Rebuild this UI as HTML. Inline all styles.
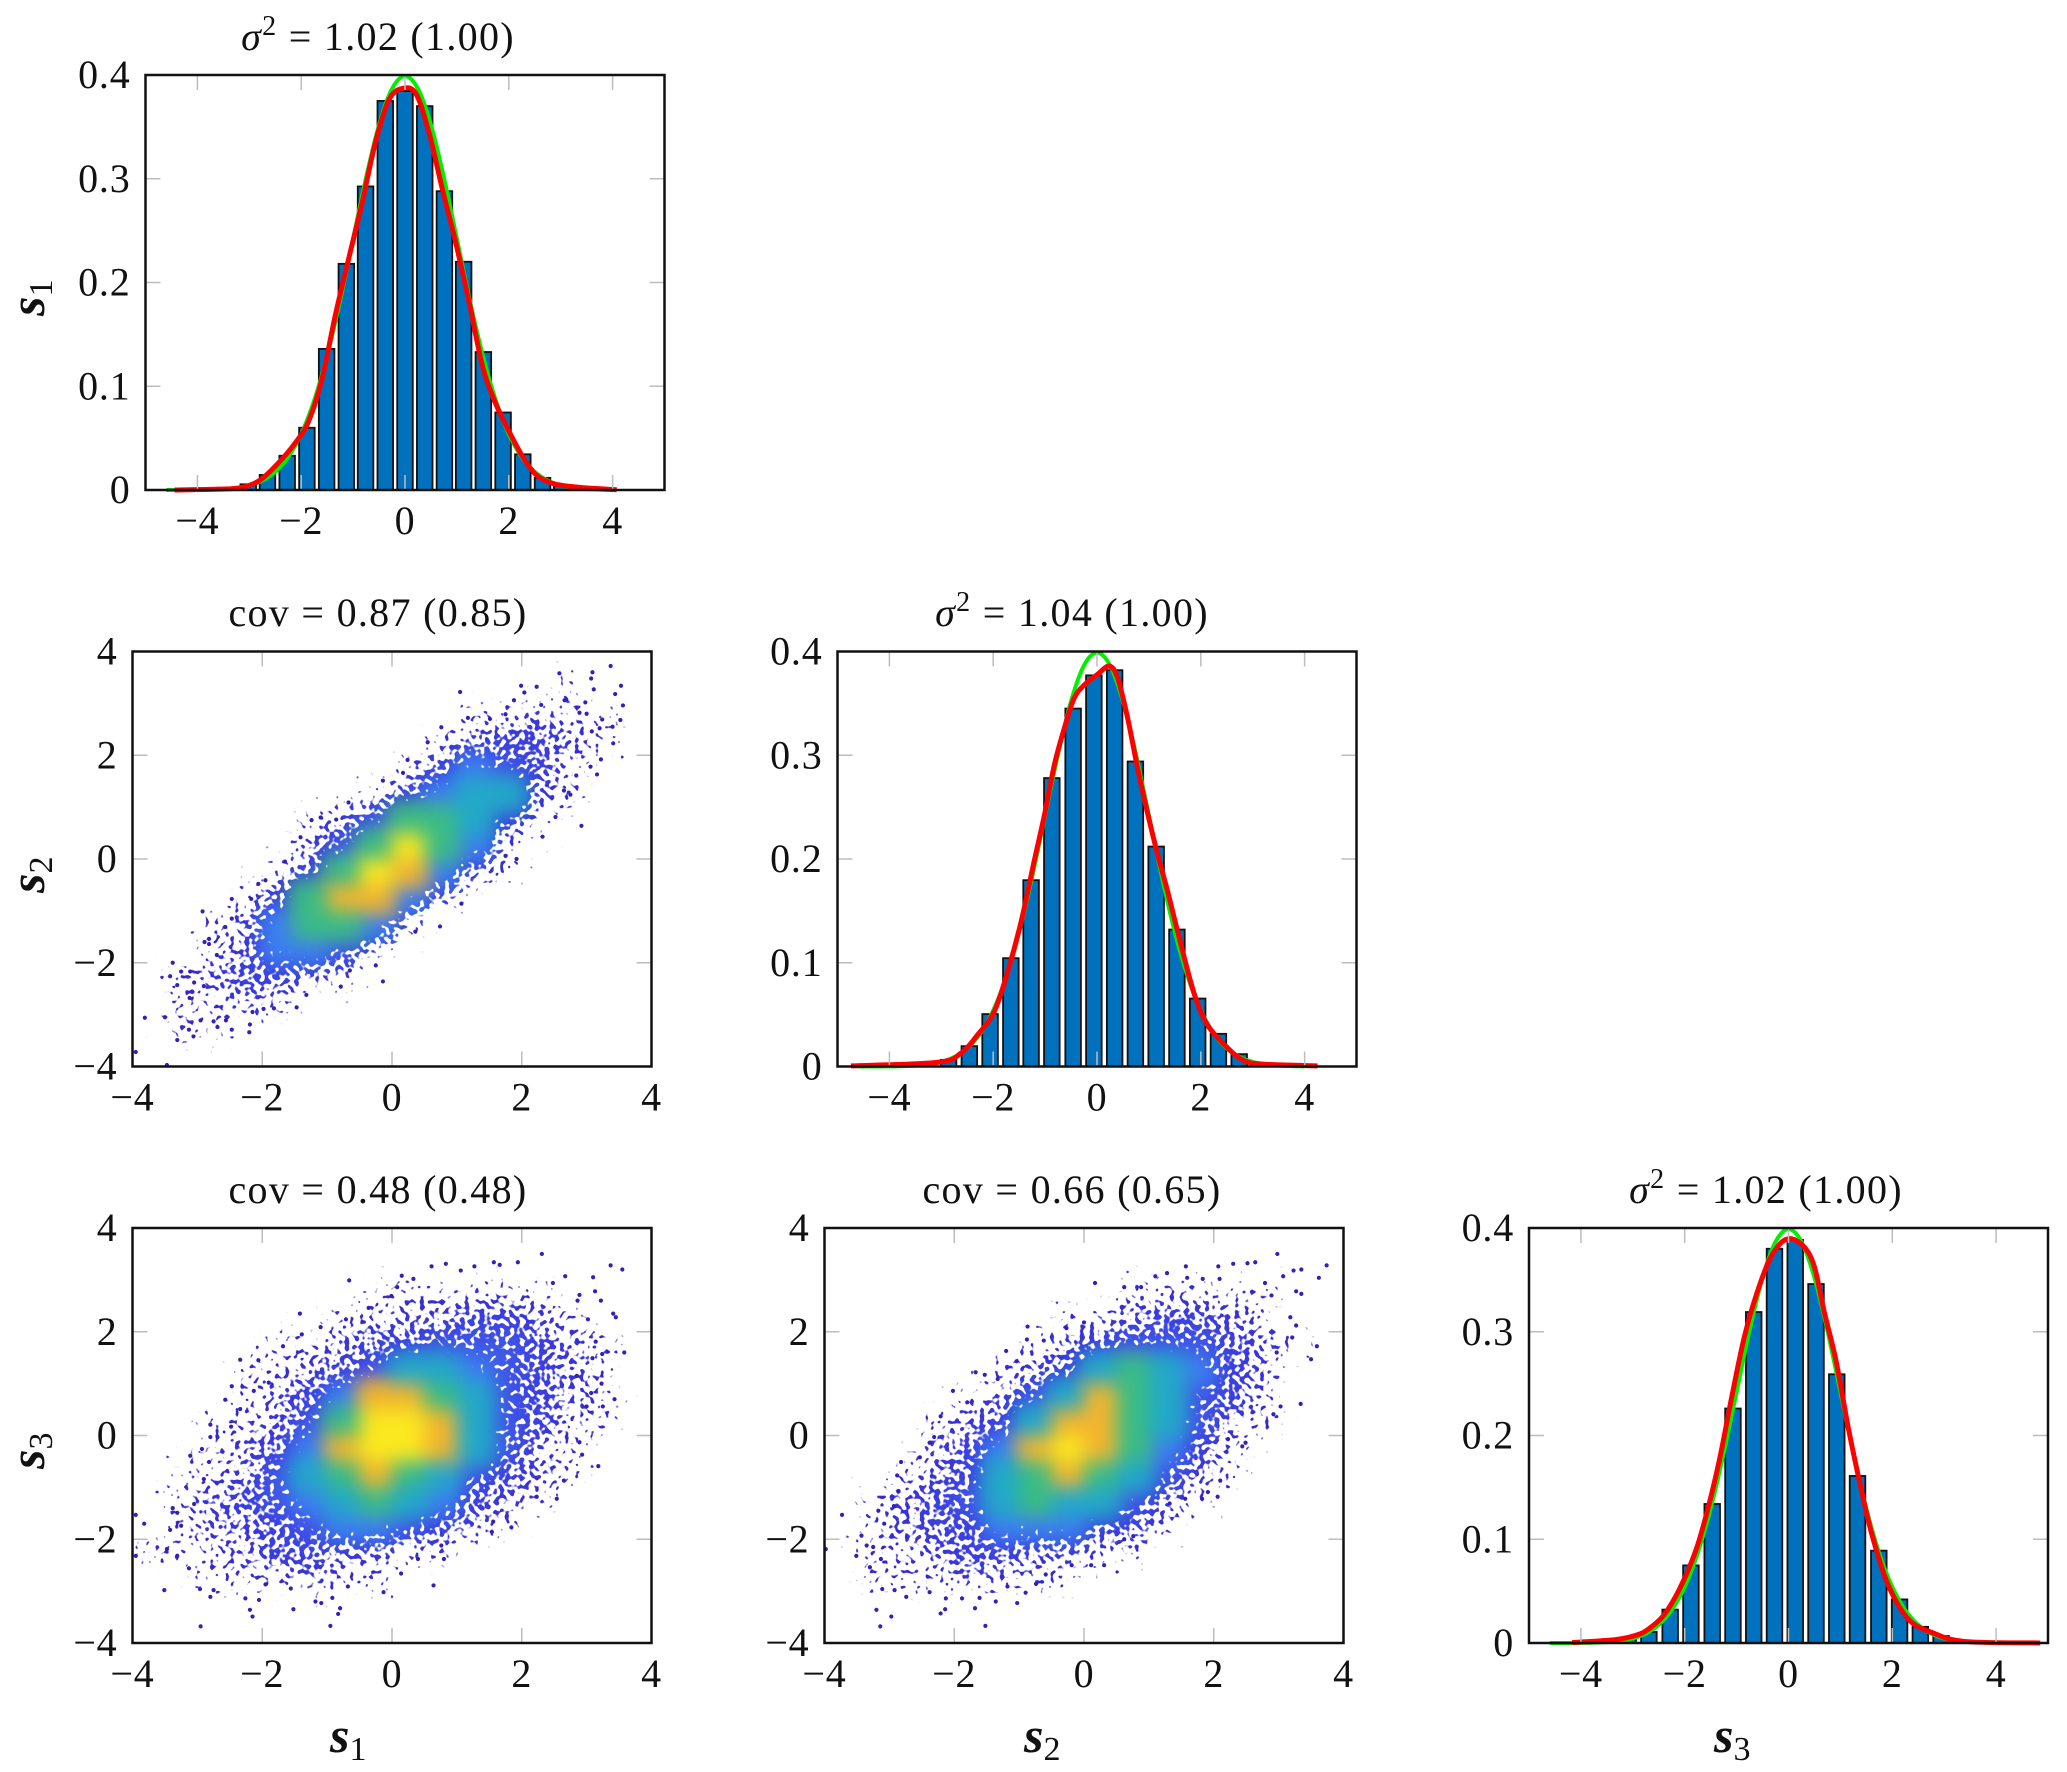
<!DOCTYPE html>
<html lang="en">
<head>
<meta charset="utf-8">
<title>Pairwise marginal and joint distributions of s1, s2, s3</title>
<style>
html,body{margin:0;padding:0;background:#fff}
svg{display:block}
text{font-family:"Liberation Serif",serif;fill:#111}
.tick{font-size:40px;letter-spacing:.8px}
.title{font-size:40px;letter-spacing:1.3px;text-anchor:middle}
.axis{font-size:50px}
.axis .v{font-weight:bold;font-style:italic}
.axis .sub{font-size:34px}
</style>
</head>
<body>
<svg id="figure" xmlns="http://www.w3.org/2000/svg" width="2067" height="1772" viewBox="0 0 2067 1772">
<defs>
<filter id="speckle" x="-5%" y="-5%" width="110%" height="110%" color-interpolation-filters="sRGB">
<feGaussianBlur in="SourceGraphic" stdDeviation="9.5" result="soft"/>
<feTurbulence type="fractalNoise" baseFrequency="0.2" numOctaves="1" seed="4" result="noise"/>
<feColorMatrix in="noise" type="matrix" values="0 0 0 0 0 0 0 0 0 0 0 0 0 0 0 0 0 0 1 0" result="noiseAlpha"/>
<feComposite in="soft" in2="noiseAlpha" operator="arithmetic" k1="0" k2="1" k3="1" k4="0" result="sum"/>
<feComponentTransfer in="sum" result="mask"><feFuncA type="linear" slope="14" intercept="-10.5"/></feComponentTransfer>
<feComponentTransfer in="soft" result="solid"><feFuncA type="linear" slope="40"/></feComponentTransfer>
<feComposite in="solid" in2="mask" operator="in"/>
</filter>
</defs>

<g id="panel-s1-s1"></g>
<g id="panel-s1-s2"></g>
<g id="panel-s2-s2"></g>
<g id="panel-s1-s3"></g>
<g id="panel-s2-s3"></g>
<g id="panel-s3-s3"></g>

<text class="title" x="378" y="50"><tspan font-style="italic">σ</tspan><tspan dy="-15" font-size="28">2</tspan><tspan dy="15"> = 1.02 (1.00)</tspan></text>
<text class="title" x="378" y="626">cov = 0.87 (0.85)</text>
<text class="title" x="1072" y="626"><tspan font-style="italic">σ</tspan><tspan dy="-15" font-size="28">2</tspan><tspan dy="15"> = 1.04 (1.00)</tspan></text>
<text class="title" x="378" y="1203">cov = 0.48 (0.48)</text>
<text class="title" x="1072" y="1203">cov = 0.66 (0.65)</text>
<text class="title" x="1766" y="1203"><tspan font-style="italic">σ</tspan><tspan dy="-15" font-size="28">2</tspan><tspan dy="15"> = 1.02 (1.00)</tspan></text>

<text class="axis" transform="translate(44 316) rotate(-90)"><tspan class="v">s</tspan><tspan class="sub" dy="8">1</tspan></text>
<text class="axis" transform="translate(44 893) rotate(-90)"><tspan class="v">s</tspan><tspan class="sub" dy="8">2</tspan></text>
<text class="axis" transform="translate(44 1469) rotate(-90)"><tspan class="v">s</tspan><tspan class="sub" dy="8">3</tspan></text>
<text class="axis" x="330" y="1752"><tspan class="v">s</tspan><tspan class="sub" dy="8">1</tspan></text>
<text class="axis" x="1024" y="1752"><tspan class="v">s</tspan><tspan class="sub" dy="8">2</tspan></text>
<text class="axis" x="1714" y="1752"><tspan class="v">s</tspan><tspan class="sub" dy="8">3</tspan></text>
</svg>

<script>
// ---- tick values ----
const histXTicks = [-4, -2, 0, 2, 4];
const histYTicks = [0, 0.1, 0.2, 0.3, 0.4];
const scatterTicks = [-4, -2, 0, 2, 4];

// ---- histogram 1 (s1) ----
const hist1Centers = [-3.40,-3.02,-2.65,-2.27,-1.89,-1.51,-1.13,-0.76,-0.38,0,0.38,0.76,1.13,1.51,1.89,2.27,2.65,3.02,3.40];
const hist1Values = [0.002,0.0055,0.0145,0.033,0.06,0.136,0.218,0.2926,0.375,0.3845,0.37,0.288,0.22,0.133,0.0747,0.0344,0.0117,0.004,0.001];
const red1X = [-4.44,-3.6,-3.15,-2.8,-2.46,-2.12,-1.86,-1.6,-1.34,-1.08,-0.83,-0.57,-0.31,-0.05,0.21,0.46,0.72,0.98,1.24,1.5,1.75,2.01,2.27,2.53,2.87,3.39,4.08];
const red1Y = [0,0.0008,0.0024,0.0093,0.025,0.045,0.066,0.107,0.169,0.224,0.276,0.335,0.376,0.387,0.382,0.345,0.29,0.238,0.18,0.118,0.083,0.056,0.032,0.0145,0.006,0.0024,0.0003];

// ---- histogram 2 (s2) ----
const hist2Centers = [-2.86,-2.46,-2.06,-1.66,-1.27,-0.87,-0.46,-0.06,0.34,0.74,1.14,1.54,1.94,2.34,2.74,3.13];
const hist2Values = [0.0064,0.0196,0.0505,0.1044,0.1796,0.278,0.345,0.377,0.382,0.294,0.212,0.132,0.0655,0.0315,0.0119,0.002];
const red2X = [-4.74,-3.07,-2.62,-2.3,-1.98,-1.72,-1.46,-1.21,-1.01,-0.82,-0.63,-0.44,-0.24,0.01,0.24,0.4,0.59,0.78,0.98,1.17,1.36,1.62,1.88,2.13,2.52,2.84,3.22,4.25];
const red2Y = [0.0006,0.004,0.0129,0.0305,0.053,0.0916,0.14,0.198,0.243,0.291,0.326,0.355,0.368,0.378,0.386,0.374,0.336,0.288,0.243,0.204,0.169,0.117,0.069,0.04,0.0177,0.0055,0.0022,0.0006];

// ---- histogram 3 (s3) ----
const hist3Centers = [-3.09,-2.69,-2.28,-1.88,-1.47,-1.07,-0.67,-0.27,0.13,0.53,0.93,1.33,1.74,2.14,2.54,2.94,3.35];
const hist3Values = [0.0037,0.0107,0.0322,0.0748,0.134,0.226,0.319,0.38,0.3885,0.346,0.259,0.161,0.089,0.042,0.0156,0.0067,0.002];
const red3X = [-4.17,-3.33,-2.94,-2.71,-2.4,-2.09,-1.78,-1.55,-1.32,-1.09,-0.86,-0.63,-0.35,-0.05,0.26,0.49,0.69,0.92,1.15,1.38,1.61,1.92,2.31,2.77,3.39,4.85];
const red3Y = [0.0004,0.0033,0.0074,0.013,0.027,0.053,0.09,0.13,0.179,0.238,0.293,0.334,0.371,0.389,0.384,0.364,0.319,0.271,0.208,0.153,0.104,0.056,0.023,0.01,0.0015,0];

// ---- reference curve shared by all histograms ----
const greenX = [-4.6,-4,-3.5,-3.25,-3,-2.75,-2.5,-2.25,-2,-1.75,-1.5,-1.25,-1,-0.75,-0.5,-0.25,0,0.25,0.5,0.75,1,1.25,1.5,1.75,2,2.25,2.5,2.75,3,3.25,3.5,4];
const greenY = [0,0.0001,0.0009,0.002,0.0044,0.0091,0.0175,0.0317,0.054,0.0863,0.1295,0.1826,0.242,0.3011,0.3521,0.3867,0.3989,0.3867,0.3521,0.3011,0.242,0.1826,0.1295,0.0863,0.054,0.0317,0.0175,0.0091,0.0044,0.002,0.0009,0.0001];

// ---- scatter density levels: rows top (y=3.75) to bottom (y=-3.75), columns x=-3.75..3.75 ----
const densityS1S2 = [
[0,0,0,0,0,0,0,0,0,0,0,0,0,0,0,0],
[0,0,0,0,0,0,0,0,0,0,0,0,0,1,0,0],
[0,0,0,0,0,0,0,0,0,0,1,1,2,1,1,0],
[0,0,0,0,0,0,0,0,0,1,2,3,3,2,1,0],
[0,0,0,0,0,0,0,0,1,3,5,4,3,1,0,0],
[0,0,0,0,0,0,0,1,3,5,6,6,2,1,0,0],
[0,0,0,0,0,1,2,4,7,7,6,3,1,0,0,0],
[0,0,0,0,0,2,4,7,9,7,5,1,0,0,0,0],
[0,0,0,0,1,3,7,9,8,5,2,1,0,0,0,0],
[0,0,0,1,3,7,8,8,5,2,0,0,0,0,0,0],
[0,0,1,2,5,7,7,5,1,0,0,0,0,0,0,0],
[0,0,1,2,5,5,4,1,0,0,0,0,0,0,0,0],
[0,1,2,3,3,2,1,0,0,0,0,0,0,0,0,0],
[0,1,1,2,1,0,0,0,0,0,0,0,0,0,0,0],
[0,1,1,0,0,0,0,0,0,0,0,0,0,0,0,0],
[0,0,0,0,0,0,0,0,0,0,0,0,0,0,0,0]];
const densityS1S3 = [
[0,0,0,0,0,0,0,0,0,0,0,0,0,0,0,0],
[0,0,0,0,0,0,0,0,0,0,0,0,0,0,0,0],
[0,0,0,0,0,0,0,1,1,1,1,1,1,0,0,0],
[0,0,0,0,0,0,1,1,2,2,3,3,2,1,0,0],
[0,0,0,0,1,1,2,3,3,4,4,4,3,2,1,0],
[0,0,0,1,1,2,3,4,6,6,5,4,3,2,1,0],
[0,0,0,1,2,3,5,8,8,7,6,4,3,2,1,0],
[0,0,1,1,2,4,7,9,9,8,6,4,3,1,1,0],
[0,0,1,2,3,5,8,9,9,8,6,4,2,1,0,0],
[0,1,1,2,4,6,7,8,7,6,4,3,2,1,0,0],
[0,1,2,3,4,5,6,7,6,5,3,2,1,0,0,0],
[0,1,2,2,3,4,5,5,4,3,2,1,0,0,0,0],
[1,1,1,2,3,3,2,2,1,1,0,0,0,0,0,0],
[0,0,1,1,1,2,1,1,0,0,0,0,0,0,0,0],
[0,0,0,0,0,0,0,0,0,0,0,0,0,0,0,0],
[0,0,0,0,0,0,0,0,0,0,0,0,0,0,0,0]];
const densityS2S3 = [
[0,0,0,0,0,0,0,0,0,0,0,0,0,0,0,0],
[0,0,0,0,0,0,0,0,0,0,0,0,0,0,0,0],
[0,0,0,0,0,0,0,0,0,1,1,1,1,1,0,0],
[0,0,0,0,0,0,0,1,1,2,3,3,2,1,0,0],
[0,0,0,0,0,0,1,2,3,4,4,4,3,2,1,0],
[0,0,0,0,0,1,2,3,6,7,6,5,3,2,0,0],
[0,0,0,0,1,2,4,6,8,7,6,4,3,1,0,0],
[0,0,0,1,2,3,6,8,8,7,6,4,2,1,0,0],
[0,0,0,2,3,5,8,9,8,7,5,3,1,0,0,0],
[0,0,1,2,3,6,7,8,7,6,4,2,1,0,0,0],
[0,1,2,3,4,6,7,6,6,4,2,1,0,0,0,0],
[0,1,2,3,3,5,5,5,3,3,1,0,0,0,0,0],
[0,1,1,2,3,3,2,2,1,1,0,0,0,0,0,0],
[0,1,1,1,2,1,1,1,0,0,0,0,0,0,0,0],
[0,0,0,0,0,0,0,0,0,0,0,0,0,0,0,0],
[0,0,0,0,0,0,0,0,0,0,0,0,0,0,0,0]];

// ---- individually visible tail samples ----
const tailS1S2X = [3.37,3.09,3.07,2.58,3.53,1.99,2.23,2.04,1.05,3.11,3.44,1.88,2.66,2.98,3.56,2.3,2.89,3,3.24,3.52,3.4,3.2,3.08,3.41,3.22,3.06,3.16,2.84,2.65,2.75,2.52,2.92,2.32,1.92,1.75,1.07,0.74,0.36,-0.14,-0.25,-0.65,-0.79,-1.32,-1.47,-1.82,-1.98,-2.15,-2.19,-2.2,-2.47,-2.56,-2.69,-2.75,-2.95,-3.06,-3.13,-3.31,-3.5,-3.81,-3.95,-3.47,-3.38,-3.42,-3.31,-3.25,-3.11,-3.05,-2.9,-3.12,-2.92,-2.89,-2.82,-2.82,-2.7,-2.47,-2.57,-2.47,-2.06,-1.95,-2.17,-1.65,-1.41,-1.24,-1.1,-0.86,-0.67,-0.14,0.17,0.24,0.55,0.76,1.17,1.51,1.75];
const tailS1S2Y = [3.72,3.6,3.48,3.58,3.34,3.34,3.32,3.21,3.22,3.27,3.18,3.06,3.06,3.02,2.96,2.97,2.82,2.8,2.69,2.68,2.55,2.52,2.46,2.23,1.92,1.78,1.63,1.61,1.32,1.24,0.81,0.64,0.43,0,0.06,-0.86,-1.3,-1.4,-2.36,-2.05,-2.15,-2.46,-2.62,-2.86,-2.88,-2.89,-2.95,-3.19,-3.34,-3.29,-3.11,-3.24,-3.13,-3.11,-3.42,-3.29,-3.49,-3.05,-3.06,-3.72,-3.97,-2,-2.26,-2.43,-2.17,-2.17,-2.38,-2.45,-2.68,-1.01,-1.6,-1.54,-1.64,-1.85,-0.77,-1.31,-1.15,-0.48,-0.41,-0.77,-0.05,0.42,0.75,0.8,0.76,1.09,1.51,1.66,1.91,2.25,2.54,2.72,2.7,2.79];
const tailS1S3X = [2.31,3.37,3.55,3.1,2.67,2.48,1.94,1.66,1.57,1.27,0.83,0.61,1.06,0.33,0.15,-0.66,0.08,-0.01,-0.36,-1.42,-0.71,-1.1,-1.39,-1.68,-2.06,-2.34,-1.9,-2.13,-2.47,-2.57,-2.34,-2.8,-2.48,-2.8,-2.93,-3.11,-2.82,-2.9,-3.05,-3.38,-3.31,-3.95,-3.82,-3.42,-3.25,-3.95,-3.47,-3.31,-3.13,-3.51,-2.96,-2.8,-2.75,-2.95,-2.26,-2.05,-2.19,-2.15,-1.95,-1.52,-1.56,-1.18,-1.09,-0.92,-0.8,-0.83,-0.95,-0.68,-0.13,0.14,0.64,0.4,0.8,0.76,1.84,1.54,1.56,2.54,2.23,2.65,3.18,2.93,2.89,3.43,3.25,3,3.23,3.07,2.85,3.58,3.24,3.09,3.14,3.45,3.41,3.22,3.02,2.86,2.89,3.13];
const tailS1S3Y = [3.5,3.28,3.2,3.05,3.07,2.94,3.34,3.29,3.34,3.26,3.31,3.26,3.18,3.02,3.08,2.99,2.86,2.69,2.46,2.35,2.24,2.09,1.95,1.72,1.45,1.46,1.02,0.86,0.95,0.69,0.51,0.21,0.17,-0.03,-0.26,-0.39,-0.51,-0.84,-1.32,-1.4,-1.49,-1.53,-1.7,-1.82,-1.74,-2.32,-2.19,-2.32,-2.56,-2.98,-2.96,-3.11,-2.98,-3.68,-3.14,-3.17,-3.36,-3.49,-2.87,-3.35,-2.95,-3.2,-3.23,-3.13,-3.33,-3.44,-3.67,-2.91,-3.02,-2.66,-2.89,-2.38,-2.38,-2.12,-1.77,-1.86,-1.66,-1.22,-1.18,-0.87,-0.59,-0.37,-0.13,0.7,0.56,0.56,1,0.82,1.15,1.6,1.57,1.49,1.81,2.28,2.35,2.6,2.24,2.6,2.71,2.78];
const tailS2S3X = [2.98,3.74,3.62,3.35,3.23,3.07,2.64,2.52,2.3,2.07,1.57,1.59,1.28,1.1,0.17,0.62,0.88,1.83,2.09,2.79,2.89,3.27,3.35,3.18,3.27,3.21,3.59,3.5,2.97,3.34,3.03,2.92,2.49,2.44,2.22,2.1,2.06,1.91,1.82,1.56,1.32,0.76,0.62,0.31,0.11,-0.19,-0.59,-0.74,-0.9,-1.03,-1.18,-1.36,-1.52,-1.68,-1.61,-1.88,-2.14,-2.21,-2.13,-2.38,-2.74,-2.92,-3.11,-2.97,-3.2,-3.14,-3.3,-3.51,-3.98,-3.73,-3.43,-3.35,-3.25,-3.13,-3.08,-3.17,-2.93,-2.86,-2.88,-2.82,-2.53,-2.38,-2.31,-2.21,-1.8,-2.02,-1.67,-1.53,-1.33,-1.2,-1.04,-0.87,-0.88,-0.62,-0.27,0];
const tailS2S3Y = [3.5,3.28,3.04,3.2,3.18,3.07,3.34,3.32,3.31,3.26,3.26,3.04,3.13,3.07,2.94,2.86,2.86,3.02,3.02,2.94,2.7,2.78,2.73,2.28,2.12,1.89,1.72,1.47,1.6,0.61,0.56,0.41,-0.14,-0.21,-0.07,-0.87,-1.18,-1.09,-1.22,-1.22,-1.31,-1.94,-2,-2.5,-2.5,-2.5,-2.68,-2.86,-3.03,-3.23,-2.91,-3.2,-3.67,-3.33,-3.13,-3.14,-3.35,-3.43,-3.14,-3.02,-3.11,-2.98,-2.96,-3.49,-3.36,-3.68,-2.54,-2.32,-2.19,-1.53,-1.93,-2.12,-2.15,-2.38,-1.7,-1.45,-1.36,-1.07,-0.77,-0.51,-0.42,-0.14,-0.03,0.37,0.64,0.86,1.22,1.17,1.09,1.63,1.43,2.1,1.85,1.83,2.07,2.18];

// ---- parula-like colour ramp, low to high density ----
const densityColors = ['none','#3826cc','#3a30d8','#3d40e2','#3f56e8','#3d80ee','#22a9c8','#3bbc84','#f2b52e','#fbe81e'];
const densityOpacity = [0,0.15,0.22,0.3,0.38,0.55,1,1,1,1];

const SVGNS = 'http://www.w3.org/2000/svg';
function add(parent, tag, attrs, txt) {
  const n = document.createElementNS(SVGNS, tag);
  for (const k in attrs) n.setAttribute(k, attrs[k]);
  if (txt !== undefined) n.textContent = txt;
  parent.appendChild(n);
  return n;
}
function scale(d0, d1, r0, r1) { return v => r0 + (v - d0) / (d1 - d0) * (r1 - r0); }

const PW = 519, PH = 415;
function fmt(v) { return String(v).replace('-', '\u2212'); }

function drawAxes(g, box, x, y, xt, yt) {
  const TL = 15;
  xt.forEach(v => {
    const px = x(v);
    if (px > box.x + 1 && px < box.x + PW - 1) {
      const a = add(g, 'line', {x1: px, x2: px, y1: box.y + box.h, y2: box.y + box.h - TL, stroke: '#bdbdbd', 'stroke-width': 1.5});
      
      
      const b = add(g, 'line', {x1: px, x2: px, y1: box.y, y2: box.y + TL, stroke: '#bdbdbd', 'stroke-width': 1.5});
      
      
    }
    const t = add(g, 'text', {x: px, y: box.y + box.h + 44, 'text-anchor': 'middle', class: 'tick'}, fmt(v));
    
    
  });
  yt.forEach(v => {
    const py = y(v);
    if (py > box.y + 1 && py < box.y + box.h - 1) {
      const a = add(g, 'line', {x1: box.x, x2: box.x + TL, y1: py, y2: py, stroke: '#bdbdbd', 'stroke-width': 1.5});
      
      
      const b = add(g, 'line', {x1: box.x + PW, x2: box.x + PW - TL, y1: py, y2: py, stroke: '#bdbdbd', 'stroke-width': 1.5});
      
      
    }
    const t = add(g, 'text', {x: box.x - 15, y: py + 13, 'text-anchor': 'end', class: 'tick'}, fmt(v));
    
    
  });
  const f = add(g, 'rect', {x: box.x, y: box.y, width: PW, height: box.h, fill: 'none', stroke: '#111', 'stroke-width': 2.5});
  
  
}

function curvePath(xs, ys, x, y) {
  const p = xs.map((v, i) => [x(v), y(ys[i])]);
  let d = 'M' + p[0][0].toFixed(2) + ' ' + p[0][1].toFixed(2);
  for (let i = 0; i < p.length - 1; i++) {
    const p0 = p[Math.max(0, i - 1)], p1 = p[i], p2 = p[i + 1], p3 = p[Math.min(p.length - 1, i + 2)];
    const c1x = p1[0] + (p2[0] - p0[0]) / 6, c1y = p1[1] + (p2[1] - p0[1]) / 6;
    const c2x = p2[0] - (p3[0] - p1[0]) / 6, c2y = p2[1] - (p3[1] - p1[1]) / 6;
    d += 'C' + c1x.toFixed(2) + ' ' + c1y.toFixed(2) + ' ' + c2x.toFixed(2) + ' ' + c2y.toFixed(2) + ' ' + p2[0].toFixed(2) + ' ' + p2[1].toFixed(2);
  }
  return d;
}

function drawHist(id, left, top, centers, values, redX, redY) {
  const g = document.getElementById(id);
  const x = scale(-5, 5, left, left + PW), y = scale(0, 0.4, top + PH, top);
  const barWidth = 0.3;
  centers.forEach((c, i) => {
    const x0 = x(c - barWidth / 2), x1 = x(c + barWidth / 2), yt = y(values[i]);
    const r = add(g, 'rect', {x: x0, y: yt, width: x1 - x0, height: top + PH - yt, fill: '#0072bd', stroke: '#111', 'stroke-width': 1.8});
    
    
  });
  const gc = add(g, 'path', {d: curvePath(greenX, greenY, x, y), fill: 'none', stroke: '#00f000', 'stroke-width': 4});
  
  
  const rc = add(g, 'path', {d: curvePath(redX, redY, x, y), fill: 'none', stroke: '#ff0000', 'stroke-width': 5});
  
  
  drawAxes(g, {x: left, y: top, h: PH}, x, y, histXTicks, histYTicks);
}

function drawScatter(id, left, top, density, tailX, tailY) {
  const g = document.getElementById(id);
  const x = scale(-4, 4, left, left + PW), y = scale(-4, 4, top + PH, top);
  const cell = 0.5;
  const clip = add(g, 'clipPath', {id: id + '-clip'});
  add(clip, 'rect', {x: left, y: top, width: PW, height: PH});
  const cg = add(g, 'g', {'clip-path': 'url(#' + id + '-clip)'});
  const dg = add(cg, 'g', {filter: 'url(#speckle)'});
  
  
  density.forEach((row, j) => {
    row.forEach((lvl, i) => {
      if (!lvl) return;
      const x0 = x(-4 + i * cell), x1 = x(-4 + (i + 1) * cell);
      const y0 = y(4 - j * cell), y1 = y(4 - (j + 1) * cell);
      const r = add(dg, 'rect', {x: x0, y: y0, width: x1 - x0 + 0.5, height: y1 - y0 + 0.5, fill: densityColors[lvl], 'fill-opacity': densityOpacity[lvl]});
      
      
    });
  });
  tailX.forEach((v, i) => {
    const c = add(cg, 'circle', {cx: x(v), cy: y(tailY[i]), r: 2.1, fill: '#3420b8'});
    
    
  });
  drawAxes(g, {x: left, y: top, h: PH}, x, y, scatterTicks, scatterTicks);
}

drawHist('panel-s1-s1', 145.5, 75, hist1Centers, hist1Values, red1X, red1Y);
drawScatter('panel-s1-s2', 132.5, 651.5, densityS1S2, tailS1S2X, tailS1S2Y);
drawHist('panel-s2-s2', 837.5, 651.5, hist2Centers, hist2Values, red2X, red2Y);
drawScatter('panel-s1-s3', 132.5, 1228, densityS1S3, tailS1S3X, tailS1S3Y);
drawScatter('panel-s2-s3', 824.5, 1228, densityS2S3, tailS2S3X, tailS2S3Y);
drawHist('panel-s3-s3', 1529, 1228, hist3Centers, hist3Values, red3X, red3Y);
</script>
</body>
</html>
